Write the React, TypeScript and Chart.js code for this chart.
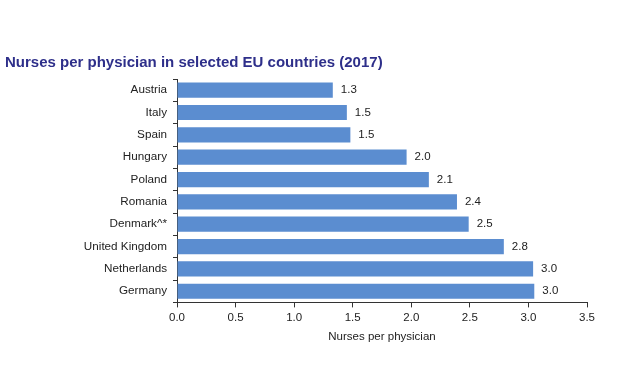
import React, { useEffect, useRef } from "react";
import { Chart, registerables } from "chart.js";

Chart.register(...registerables);

const countries = ["Austria", "Italy", "Spain", "Hungary", "Poland", "Romania", "Denmark^*", "United Kingdom", "Netherlands", "Germany"];
const nursesPerPhysician = [1.33, 1.45, 1.48, 1.96, 2.15, 2.39, 2.49, 2.79, 3.04, 3.05];
const valueLabels = ["1.3", "1.5", "1.5", "2.0", "2.1", "2.4", "2.5", "2.8", "3.0", "3.0"];
const xTicks = [0, 0.5, 1, 1.5, 2, 2.5, 3, 3.5];

const FONT = "'Liberation Sans', Arial, sans-serif";

const valueLabelPlugin = {
  id: "valueLabels",
  afterDatasetsDraw(chart: any) {
    const ctx = chart.ctx;
    const meta = chart.getDatasetMeta(0);
    ctx.save();
    ctx.font = `11.5px ${FONT}`;
    ctx.fillStyle = "#222";
    ctx.textAlign = "left";
    ctx.textBaseline = "middle";
    meta.data.forEach((bar: any, i: number) => {
      ctx.fillText(valueLabels[i], bar.x + 8, bar.y);
    });
    ctx.restore();
  },
};

export default function App() {
  const ref = useRef<HTMLCanvasElement>(null);
  useEffect(() => {
    if (!ref.current) return;
    const chart = new Chart(ref.current, {
      type: "bar",
      data: {
        labels: countries,
        datasets: [
          {
            data: nursesPerPhysician,
            backgroundColor: "#5B8DD0",
            borderWidth: 0,
            categoryPercentage: 0.68,
            barPercentage: 1,
          },
        ],
      },
      options: {
        indexAxis: "y",
        animation: false,
        responsive: false,
        maintainAspectRatio: false,
        layout: { padding: { left: 5, right: 33, top: 0, bottom: 20 } },
        plugins: {
          legend: { display: false },
          tooltip: { enabled: false },
          title: {
            display: true,
            text: "Nurses per physician in selected EU countries (2017)",
            align: "start",
            color: "#2E2F8A",
            font: { family: FONT, size: 15, weight: "bold" },
            padding: { top: 54, bottom: 7 },
          },
        },
        scales: {
          x: {
            min: 0,
            max: 3.5,
            afterBuildTicks(scale: any) {
              scale.ticks = xTicks.map((v) => ({ value: v }));
            },
            ticks: {
              color: "#222",
              font: { family: FONT, size: 11.5 },
              padding: 4,
              callback: (v: any) => Number(v).toFixed(1),
            },
            grid: { drawOnChartArea: false, tickLength: 5, color: "#333" },
            border: { display: true, color: "#333", width: 1 },
            title: {
              display: true,
              text: "Nurses per physician",
              color: "#222",
              font: { family: FONT, size: 11.5 },
              padding: { top: 1 },
            },
          },
          y: {
            afterFit(scale: any) {
              scale.width = 172;
            },
            ticks: {
              color: "#222",
              font: { family: FONT, size: 11.7 },
              padding: 6,
            },
            grid: { drawOnChartArea: false, tickLength: 4, color: "#333", offset: true },
            border: { display: true, color: "#333", width: 1 },
          },
        },
      },
      plugins: [valueLabelPlugin],
    });
    return () => chart.destroy();
  }, []);
  return (
    <div style={{ position: "fixed", left: 0, top: 0, width: 620, height: 368, background: "#fff" }}>
      <canvas ref={ref} width={620} height={368} style={{ width: 620, height: 368 }} />
    </div>
  );
}
